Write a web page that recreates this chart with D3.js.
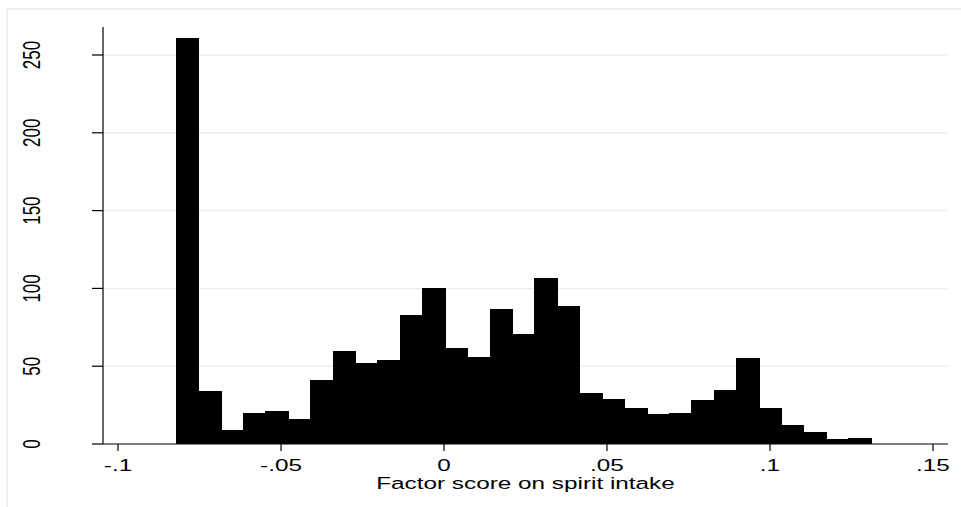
<!DOCTYPE html>
<html>
<head>
<meta charset="utf-8">
<script src="https://cdn.jsdelivr.net/npm/d3@7"></script>
<style>
html,body{margin:0;padding:0;background:#fff;}
svg{display:block;}
text{font-family:"Liberation Sans",Arial,sans-serif;fill:#000;}
</style>
</head>
<body>
<svg id="chart" width="961" height="507"></svg>
<script>
// ---- data ----
const binStart = -0.0823;
const binWidth = 0.006877;
const counts = [261,34,9,20,21,16,41,60,52,54,83,100,62,56,87,71,107,89,33,29,23,19,20,28,35,55,23,12,8,3,4];
const xTicks = [-0.1,-0.05,0,0.05,0.1,0.15];
const xTickLabels = ["-.1","-.05","0",".05",".1",".15"];
const yTicks = [0,50,100,150,200,250];
const yTickLabels = ["0","50","100","150","200","250"];
const xTitle = "Factor score on spirit intake";

// ---- layout ----
const svg = d3.select("#chart");
const plotL = 103, plotR = 948, plotB = 444, plotT = 27;
const sx = 1.43; // horizontal stretch of text
const x = d3.scaleLinear().domain([-0.1, 0.15]).range([118, 933]);
const y = d3.scaleLinear().domain([0, 268]).range([plotB, plotT]);

// outer frame
svg.append("rect").attr("x",7).attr("y",9).attr("width",1000).attr("height",600)
  .attr("fill","#fff").attr("stroke","#edf1f3").attr("stroke-width",2);

// gridlines
svg.append("g").selectAll("line").data(yTicks.filter(d=>d>0)).join("line")
  .attr("x1",plotL).attr("x2",plotR)
  .attr("y1",d=>y(d)).attr("y2",d=>y(d))
  .attr("stroke","#e9eff1").attr("stroke-width",1.5);

// bars
const bins = counts.map((c,i)=>({x0:binStart+i*binWidth, x1:binStart+(i+1)*binWidth, n:c}));
svg.append("g").attr("shape-rendering","crispEdges").selectAll("rect").data(bins).join("rect")
  .attr("x",d=>Math.round(x(d.x0))).attr("width",d=>Math.round(x(d.x1))-Math.round(x(d.x0))+0.6)
  .attr("y",d=>y(d.n)).attr("height",d=>y(0)-y(d.n))
  .attr("fill","#000");

// axes lines
svg.append("line").attr("x1",plotL).attr("x2",plotL).attr("y1",plotT).attr("y2",plotB)
  .attr("stroke","#000").attr("stroke-width",1.2);
svg.append("line").attr("x1",plotL).attr("x2",plotR).attr("y1",plotB).attr("y2",plotB)
  .attr("stroke","#000").attr("stroke-width",1.2);

// y ticks
const yg = svg.append("g");
yg.selectAll("line").data(yTicks).join("line")
  .attr("x1",92).attr("x2",plotL).attr("y1",d=>y(d)).attr("y2",d=>y(d))
  .attr("stroke","#000").attr("stroke-width",1.2);
yg.selectAll("text").data(yTicks).join("text")
  .attr("transform",d=>`translate(40,${y(d)}) scale(${sx},1) rotate(-90)`)
  .attr("text-anchor","middle").attr("font-size",17)
  .text((d,i)=>yTickLabels[i]);

// x ticks
const xg = svg.append("g");
xg.selectAll("line").data(xTicks).join("line")
  .attr("x1",d=>x(d)).attr("x2",d=>x(d)).attr("y1",plotB).attr("y2",451)
  .attr("stroke","#000").attr("stroke-width",1.2);
xg.selectAll("text").data(xTicks).join("text")
  .attr("transform",d=>`translate(${x(d)},471) scale(${sx},1)`)
  .attr("text-anchor","middle").attr("font-size",17)
  .text((d,i)=>xTickLabels[i]);

// x title
svg.append("text")
  .attr("transform",`translate(${(plotL+plotR)/2},489) scale(${sx},1)`)
  .attr("text-anchor","middle").attr("font-size",17)
  .text(xTitle);
</script>
</body>
</html>
